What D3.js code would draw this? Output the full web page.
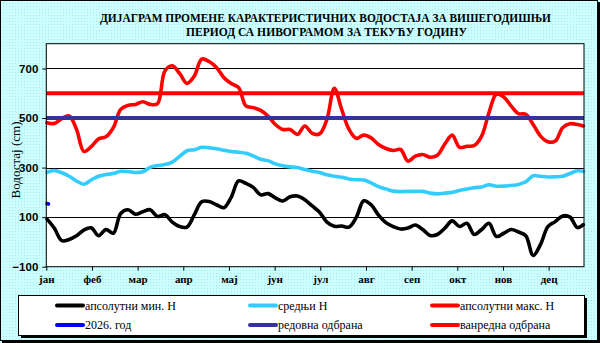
<!DOCTYPE html>
<html>
<head>
<meta charset="utf-8">
<script src="https://cdn.jsdelivr.net/npm/d3@7"></script>
<style>
  body { margin: 0; background: #fff; }
  svg { display: block; }
</style>
</head>
<body>
<svg width="600" height="343"></svg>
<script>
// day of year (0 = 1 jan), sampled every 5 days
const days = [0,5,10,15,20,25,30,35,40,45,50,55,60,65,70,75,80,85,90,
  95,100,105,110,115,120,125,130,135,140,145,150,155,160,165,170,175,180,
  185,190,195,200,205,210,215,220,225,230,235,240,245,250,255,260,265,270,
  275,280,285,290,295,300,305,310,315,320,325,330,335,340,345,350,355,360,364];

// апсолутни мин. Н
const minH = [92,55,5,10,25,48,57,25,50,35,115,130,112,122,130,103,110,80,62,
  60,110,162,163,150,138,180,246,236,220,190,195,178,165,182,185,170,145,
  120,80,63,64,60,100,166,150,108,78,62,52,56,68,50,26,30,55,
  85,62,75,30,50,75,22,35,50,40,25,-55,-10,62,82,105,100,58,70];

// средњи Н
const meanH = [281,288,279,265,246,233,250,265,272,276,285,284,280,283,301,308,312,322,345,
  368,372,382,380,376,370,365,362,358,347,334,328,315,307,303,300,292,285,
  280,271,265,261,254,251,250,238,223,214,205,203,204,204,204,197,194,197,
  200,208,214,219,222,231,225,225,228,232,243,267,265,262,263,265,276,287,285];

// апсолутни макс. Н
const maxH = [481,478,498,508,455,365,385,416,424,461,535,551,555,566,555,558,690,711,680,
  640,670,738,728,704,664,639,623,549,542,531,508,474,454,454,434,468,438,
  436,495,620,535,454,418,431,420,393,377,369,373,326,346,353,342,350,395,
  431,382,386,389,427,522,596,585,549,518,515,474,427,404,407,461,477,474,468];

// 2026. год
const curDays = [0, 1];
const curH = [155, 153];

const redovna = 500;
const vanredna = 600;

const months = ["јан","феб","мар","апр","мај","јун","јул","авг","сеп","окт","нов","дец"];
const monthStart = [0,31,62,93,124,155,186,217,248,279,310,341];
const yTicks = [-100, 100, 300, 500, 700];

const svg = d3.select("svg");
const W = 600, H = 343;

// dotted light cyan background
const defs = svg.append("defs");
const pat = defs.append("pattern")
  .attr("id", "dots").attr("width", 3).attr("height", 3)
  .attr("patternUnits", "userSpaceOnUse");
pat.append("rect").attr("width", 3).attr("height", 3).attr("fill", "#ccffff");
pat.append("rect").attr("x", 0).attr("y", 0).attr("width", 1).attr("height", 1).attr("fill", "#a8e8ec");

svg.append("rect").attr("width", W).attr("height", H).attr("fill", "url(#dots)");
svg.append("rect").attr("x", 0.5).attr("y", 0.5).attr("width", 597).attr("height", 340)
  .attr("fill", "none").attr("stroke", "#000");
svg.append("line").attr("x1", 2).attr("x2", 599).attr("y1", 342).attr("y2", 342)
  .attr("stroke", "#000").attr("stroke-width", 2);
svg.append("line").attr("x1", 599).attr("x2", 599).attr("y1", 2).attr("y2", 343)
  .attr("stroke", "#000").attr("stroke-width", 2);

// title
const title = svg.append("g")
  .attr("font-family", "'Liberation Serif', 'Times New Roman', serif")
  .attr("font-weight", "bold").attr("font-size", 12.5).attr("fill", "#000");
title.append("text").attr("x", 100).attr("y", 22)
  .attr("textLength", 451).attr("lengthAdjust", "spacingAndGlyphs")
  .text("ДИЈАГРАМ ПРОМЕНЕ КАРАКТЕРИСТИЧНИХ ВОДОСТАЈА ЗА ВИШЕГОДИШЊИ");
title.append("text").attr("x", 186).attr("y", 36)
  .attr("textLength", 281).attr("lengthAdjust", "spacingAndGlyphs")
  .text("ПЕРИОД СА НИВОГРАМОМ ЗА ТЕКУЋУ ГОДИНУ");

// plot area
const pLeft = 46.3, pRight = 584, pTop = 43.7, pBottom = 266.7;
const x = d3.scaleLinear().domain([0, 365]).range([pLeft, pRight]);
const y = d3.scaleLinear().domain([-100, 800]).range([pBottom, pTop]);

svg.append("rect").attr("x", pLeft).attr("y", pTop)
  .attr("width", pRight - pLeft).attr("height", pBottom - pTop)
  .attr("fill", "#fff");

// gridlines
svg.append("g").selectAll("line")
  .data(yTicks.filter(v => v > -100))
  .join("line")
  .attr("x1", pLeft).attr("x2", pRight)
  .attr("y1", d => Math.round(y(d)) + 0.5).attr("y2", d => Math.round(y(d)) + 0.5)
  .attr("stroke", "#000").attr("stroke-width", 1);

const line = (xs) => d3.line()
  .x((d, i) => x(xs[i] + 0.5))
  .y(d => y(d))
  .curve(d3.curveCatmullRom.alpha(0.5));

const series = [
  { vals: minH, xs: days, color: "#000000" },
  { vals: meanH, xs: days, color: "#33ccff" },
  { vals: maxH, xs: days, color: "#ff0000" },
  { vals: curH, xs: curDays, color: "#0000ff" }
];
series.forEach(s => {
  svg.append("path")
    .datum(s.vals)
    .attr("fill", "none")
    .attr("stroke", s.color)
    .attr("stroke-width", 3.6)
    .attr("stroke-linejoin", "round")
    .attr("stroke-linecap", "round")
    .attr("d", line(s.xs));
});

// defence levels
[{ v: redovna, color: "#333399" }, { v: vanredna, color: "#ff0000" }].forEach(l => {
  svg.append("line")
    .attr("x1", pLeft).attr("x2", pRight)
    .attr("y1", y(l.v)).attr("y2", y(l.v))
    .attr("stroke", l.color).attr("stroke-width", 4);
});

svg.append("rect").attr("x", pLeft).attr("y", pTop)
  .attr("width", pRight - pLeft).attr("height", pBottom - pTop)
  .attr("fill", "none").attr("stroke", "#000").attr("stroke-width", 1);

// axes
const yAxis = svg.append("g")
  .attr("transform", `translate(${pLeft},0)`)
  .call(d3.axisLeft(y).tickValues(yTicks).tickSize(4).tickSizeOuter(0));
yAxis.select(".domain").remove();
yAxis.selectAll("line").attr("stroke", "#000");
yAxis.selectAll("text")
  .attr("font-family", "'Liberation Sans', Arial, sans-serif")
  .attr("font-weight", "bold").attr("font-size", 11.5).attr("fill", "#000")
  .attr("x", -8);

const xAxis = svg.append("g")
  .attr("transform", `translate(0,${pBottom})`)
  .call(d3.axisBottom(x).tickValues(monthStart)
    .tickFormat((d, i) => months[i]).tickSize(4).tickSizeOuter(0));
xAxis.select(".domain").remove();
xAxis.selectAll("line").attr("stroke", "#000");
xAxis.selectAll("text")
  .attr("font-family", "'Liberation Serif', 'Times New Roman', serif")
  .attr("font-weight", "bold").attr("font-size", 11).attr("fill", "#000")
  .attr("y", 9);

svg.append("text")
  .attr("transform", "translate(20,160) rotate(-90)")
  .attr("text-anchor", "middle")
  .attr("font-family", "'Liberation Serif', 'Times New Roman', serif")
  .attr("font-size", 13).attr("fill", "#000")
  .text("Водостај (cm)");

// legend
const lg = { x: 18, y: 295, w: 566, h: 40 };
svg.append("rect").attr("x", lg.x + 3).attr("y", lg.y + 3)
  .attr("width", lg.w).attr("height", lg.h).attr("fill", "#000");
svg.append("rect").attr("x", lg.x + 0.5).attr("y", lg.y + 0.5)
  .attr("width", lg.w).attr("height", lg.h)
  .attr("fill", "#fff").attr("stroke", "#000");

const legendItems = [
  { label: "апсолутни мин. Н", color: "#000000", col: 0, row: 0 },
  { label: "средњи Н", color: "#33ccff", col: 1, row: 0 },
  { label: "апсолутни макс. Н", color: "#ff0000", col: 2, row: 0 },
  { label: "2026. год", color: "#0000ff", col: 0, row: 1 },
  { label: "редовна одбрана", color: "#333399", col: 1, row: 1 },
  { label: "ванредна одбрана", color: "#ff0000", col: 2, row: 1 }
];
const colX = [57, 250, 432];
const rowY = [305.5, 325];
const li = svg.append("g").selectAll("g").data(legendItems).join("g")
  .attr("transform", d => `translate(${colX[d.col]},${rowY[d.row]})`);
li.append("line").attr("x1", 0).attr("x2", 26)
  .attr("stroke", d => d.color).attr("stroke-width", 4).attr("stroke-linecap", "round");
li.append("text").attr("x", 28).attr("y", 4)
  .attr("font-family", "'Liberation Serif', 'Times New Roman', serif")
  .attr("font-size", 12).attr("fill", "#000")
  .text(d => d.label);
</script>
</body>
</html>
